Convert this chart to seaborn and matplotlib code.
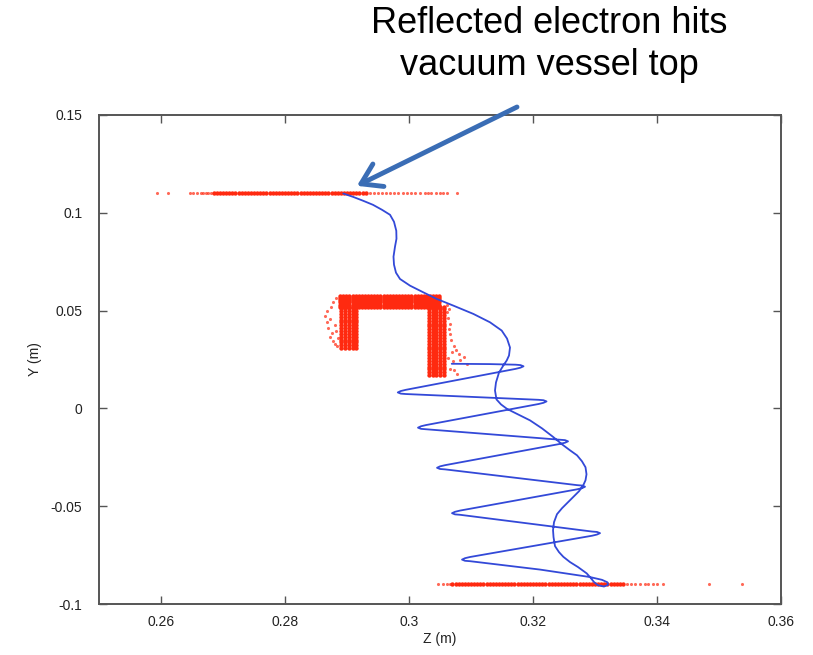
import matplotlib
matplotlib.use("Agg")
import matplotlib.pyplot as plt
import numpy as np
import pandas as pd
import seaborn as sns

# ---------------- data ----------------
# wall hits at the vacuum vessel top (Y = 0.11 m)
top_wall_y = 0.11
top_dense_z = [0.2685, 0.2690, 0.2695, 0.2700, 0.2705, 0.2710, 0.2715, 0.2720, 0.2725, 0.2730,
               0.2735, 0.2740, 0.2745, 0.2750, 0.2755, 0.2760, 0.2765, 0.2770, 0.2775, 0.2780,
               0.2785, 0.2790, 0.2795, 0.2800, 0.2805, 0.2810, 0.2815, 0.2820, 0.2825, 0.2830,
               0.2835, 0.2840, 0.2845, 0.2850, 0.2855, 0.2860, 0.2865, 0.2870, 0.2875, 0.2880,
               0.2885, 0.2890, 0.2895, 0.2900, 0.2905, 0.2910, 0.2915, 0.2920, 0.2925, 0.2930]
top_sparse_z = [0.2593, 0.2612, 0.2647, 0.2652, 0.2658, 0.2664, 0.2668, 0.2672, 0.2676, 0.2680,
                0.2937, 0.2944, 0.2950, 0.2957, 0.2963, 0.2970, 0.2976, 0.2983, 0.2990, 0.2996,
                0.3003, 0.3010, 0.3018, 0.3025, 0.3030, 0.3036, 0.3043, 0.3050, 0.3055, 0.3061,
                0.3077]

# wall hits at the bottom (Y = -0.09 m)
bottom_wall_y = -0.09
bottom_dense_z = [0.3070, 0.3075, 0.3080, 0.3085, 0.3090, 0.3095, 0.3100, 0.3105, 0.3110, 0.3115,
                  0.3120, 0.3125, 0.3130, 0.3135, 0.3140, 0.3145, 0.3150, 0.3155, 0.3160, 0.3165,
                  0.3170, 0.3175, 0.3180, 0.3185, 0.3190, 0.3195, 0.3200, 0.3205, 0.3210, 0.3215,
                  0.3220, 0.3225, 0.3230, 0.3235, 0.3240, 0.3245, 0.3250, 0.3255, 0.3260, 0.3265,
                  0.3270, 0.3275, 0.3280, 0.3285, 0.3290, 0.3295, 0.3300, 0.3305, 0.3310, 0.3315,
                  0.3320, 0.3325, 0.3330, 0.3335, 0.3340, 0.3345]
bottom_sparse_z = [0.3046, 0.3055, 0.3062, 0.3066, 0.3352, 0.3358, 0.3365, 0.3372, 0.3380,
                   0.3386, 0.3393, 0.3400, 0.3410, 0.3484, 0.3537]

# hits on the bracket-shaped electrode
bar_z = [0.2889, 0.2894, 0.2899, 0.2904, 0.2909, 0.2914, 0.2919, 0.2924, 0.2929, 0.2934,
         0.2939, 0.2944, 0.2949, 0.2954, 0.2959, 0.2964, 0.2969, 0.2974, 0.2979, 0.2984,
         0.2989, 0.2994, 0.2999, 0.3004, 0.3009, 0.3014, 0.3019, 0.3024, 0.3029, 0.3034,
         0.3039, 0.3044, 0.3048]
bar_y = [0.0520, 0.0531, 0.0543, 0.0554, 0.0565, 0.0576]
left_leg_z = [0.2890, 0.2896, 0.2903, 0.2909, 0.2915]
left_leg_y = [0.0308, 0.0322, 0.0337, 0.0352, 0.0366, 0.0381, 0.0396, 0.0410, 0.0425, 0.0440,
              0.0454, 0.0469, 0.0484, 0.0498, 0.0513]
right_leg_z = [0.3032, 0.3038, 0.3044, 0.3050, 0.3056]
right_leg_y = [0.0170, 0.0184, 0.0199, 0.0214, 0.0228, 0.0243, 0.0258, 0.0272, 0.0287, 0.0302,
               0.0316, 0.0331, 0.0346, 0.0360, 0.0375, 0.0390, 0.0404, 0.0419, 0.0434, 0.0448,
               0.0463, 0.0478, 0.0492, 0.0507, 0.0520]
bracket_sparse_z = [0.2865, 0.2868, 0.2870, 0.2873, 0.2876, 0.2878, 0.2880, 0.2884, 0.2868, 0.2874,
                    0.2878, 0.2882, 0.2872, 0.2880, 0.2883, 0.2886,
                    0.3061, 0.3063, 0.3064, 0.3066, 0.3068, 0.3072, 0.3069, 0.3080, 0.3088, 0.3093,
                    0.3077, 0.3066, 0.3071, 0.3063, 0.3061, 0.3064, 0.3066, 0.3075, 0.3083, 0.3072]
bracket_sparse_y = [0.0474, 0.0440, 0.0410, 0.0364, 0.0385, 0.0345, 0.0330, 0.0320, 0.0500, 0.0520,
                    0.0545, 0.0565, 0.0455, 0.0425, 0.0395, 0.0360,
                    0.0491, 0.0460, 0.0407, 0.0380, 0.0350, 0.0321, 0.0290, 0.0280, 0.0262, 0.0228,
                    0.0177, 0.0202, 0.0240, 0.0260, 0.0530, 0.0510, 0.0430, 0.0300, 0.0245, 0.0195]

# electron trajectory: gyrating descent, reflection loop at the bottom, drift up to the top wall
traj_z = [0.30689, 0.31306, 0.31718, 0.31798, 0.31847, 0.31798, 0.31718,
          0.29948, 0.29868, 0.29819, 0.29868, 0.29948,
          0.32089, 0.32169, 0.32218, 0.32169, 0.32089,
          0.30274, 0.30194, 0.30145, 0.30194, 0.30274,
          0.32435, 0.32516, 0.32565, 0.32516, 0.32435,
          0.30581, 0.30500, 0.30452, 0.30500, 0.30581,
          0.32710, 0.32790, 0.32839, 0.32790, 0.32710,
          0.30823, 0.30742, 0.30694, 0.30742, 0.30823,
          0.32952, 0.33032, 0.33081, 0.33032, 0.32952,
          0.30984, 0.30903, 0.30855, 0.30903, 0.30984,
          0.32113, 0.32919, 0.33113, 0.33202, 0.33210, 0.33145, 0.33048, 0.32984, 0.32919,
          0.32866, 0.32726, 0.32597, 0.32489, 0.32419, 0.32355, 0.32331, 0.32323, 0.32339, 0.32387,
          0.32468, 0.32597, 0.32742, 0.32811, 0.32847, 0.32863, 0.32847, 0.32790, 0.32710, 0.32597,
          0.32468, 0.32327, 0.32145, 0.31952, 0.31758, 0.31581, 0.31484, 0.31411, 0.31387, 0.31403,
          0.31452, 0.31532, 0.31576, 0.31613, 0.31629, 0.31581, 0.31495, 0.31306, 0.31037, 0.30715,
          0.30447, 0.30231, 0.30016, 0.29855, 0.29790, 0.29758, 0.29750, 0.29774, 0.29798, 0.29795,
          0.29758, 0.29694, 0.29565, 0.29419, 0.29263, 0.29097, 0.28940]
traj_y = [0.02281, 0.02265, 0.02235, 0.02214, 0.02153, 0.02082, 0.02020,
          0.00949, 0.00888, 0.00816, 0.00755, 0.00735,
          0.00439, 0.00418, 0.00357, 0.00286, 0.00224,
          -0.00852, -0.00913, -0.00985, -0.01046, -0.01066,
          -0.01602, -0.01622, -0.01684, -0.01755, -0.01816,
          -0.02903, -0.02964, -0.03036, -0.03097, -0.03117,
          -0.03923, -0.03944, -0.04005, -0.04077, -0.04138,
          -0.05224, -0.05286, -0.05357, -0.05418, -0.05439,
          -0.06296, -0.06316, -0.06378, -0.06449, -0.06510,
          -0.07597, -0.07658, -0.07730, -0.07791, -0.07811,
          -0.08240, -0.08622, -0.08765, -0.08893, -0.09020, -0.09107, -0.09041, -0.08878, -0.08622,
          -0.08434, -0.08112, -0.07857, -0.07587, -0.07347, -0.07041, -0.06582, -0.06224, -0.05816, -0.05408,
          -0.05102, -0.04694, -0.04235, -0.03929, -0.03673, -0.03367, -0.03010, -0.02704, -0.02398, -0.02143,
          -0.01837, -0.01464, -0.01020, -0.00612, -0.00306, -0.00026, 0.00204, 0.00459, 0.00918, 0.01327,
          0.01837, 0.02245, 0.02449, 0.02704, 0.03112, 0.03571, 0.03980, 0.04403, 0.04832, 0.05255,
          0.05597, 0.05934, 0.06276, 0.06617, 0.06939, 0.07347, 0.07755, 0.08265, 0.08673, 0.09082,
          0.09541, 0.09898, 0.10153, 0.10408, 0.10612, 0.10816, 0.10985]

x_ticks = [0.26, 0.28, 0.30, 0.32, 0.34, 0.36]
x_tick_labels = ["0.26", "0.28", "0.3", "0.32", "0.34", "0.36"]
y_ticks = [-0.10, -0.05, 0.0, 0.05, 0.10, 0.15]
y_tick_labels = ["-0.1", "-0.05", "0", "0.05", "0.1", "0.15"]
annotation_text = "Reflected electron hits\nvacuum vessel top"
arrow_target = (0.2916, 0.1138)

# ---------------- build tables ----------------
dense_rows = []
for z in top_dense_z:
    dense_rows.append((z, top_wall_y))
for z in bottom_dense_z:
    dense_rows.append((z, bottom_wall_y))
for y in bar_y:
    for z in bar_z:
        dense_rows.append((z, y))
for y in left_leg_y:
    for z in left_leg_z:
        dense_rows.append((z, y))
for y in right_leg_y:
    for z in right_leg_z:
        dense_rows.append((z, y))
dense_df = pd.DataFrame(dense_rows, columns=["z", "y"])

sparse_rows = [(z, top_wall_y) for z in top_sparse_z]
sparse_rows += [(z, bottom_wall_y) for z in bottom_sparse_z]
sparse_rows += list(zip(bracket_sparse_z, bracket_sparse_y))
sparse_df = pd.DataFrame(sparse_rows, columns=["z", "y"])

traj_df = pd.DataFrame({"z": traj_z, "y": traj_y})

# ---------------- plot ----------------
sns.set_style("ticks")
plt.rcParams["font.family"] = ["Liberation Sans", "DejaVu Sans"]

fig = plt.figure(figsize=(8.13, 6.55), dpi=100)
ax = fig.add_axes([99 / 813, 1 - 604 / 655, (781 - 99) / 813, (604 - 115) / 655])

red = "#ff2a10"
sns.scatterplot(data=sparse_df, x="z", y="y", ax=ax, color=red, s=5, marker="o",
                linewidth=0, alpha=0.7, legend=False)
sns.scatterplot(data=dense_df, x="z", y="y", ax=ax, color=red, s=10, marker="o",
                linewidth=0, alpha=1.0, legend=False)
sns.lineplot(data=traj_df, x="z", y="y", ax=ax, sort=False, estimator=None,
             color="#3349d8", lw=1.3, solid_joinstyle="round", solid_capstyle="round")

ax.set_xlim(0.25, 0.36)
ax.set_ylim(-0.10, 0.15)
ax.set_xticks(x_ticks)
ax.set_xticklabels(x_tick_labels)
ax.set_yticks(y_ticks)
ax.set_yticklabels(y_tick_labels)
ax.tick_params(axis="both", direction="in", length=6, width=1.0, color="#555555",
               top=True, right=True, labelsize=10, labelcolor="#222222")
ax.tick_params(axis="y", pad=12)
ax.tick_params(axis="x", pad=8)
for sp in ax.spines.values():
    sp.set_visible(True)
    sp.set_color("#555555")
    sp.set_linewidth(1.4)

ax.set_xlabel("Z (m)", fontsize=10, color="#222222", labelpad=2)
ax.set_ylabel("Y (m)", fontsize=10, color="#222222", labelpad=6)

ax.annotate("", xy=arrow_target, xycoords="data",
            xytext=(517 / 813, 1 - 107 / 655), textcoords="figure fraction",
            arrowprops=dict(arrowstyle="->,head_length=0.7,head_width=0.45", lw=3.5,
                            color="#3a6db5", shrinkA=0, shrinkB=0, mutation_scale=20),
            annotation_clip=False)
fig.text(549 / 813, 1 - 6 / 655, annotation_text, ha="center", va="top",
         fontsize=26, linespacing=1.25, color="black")

fig.savefig("out.png", dpi=100)
